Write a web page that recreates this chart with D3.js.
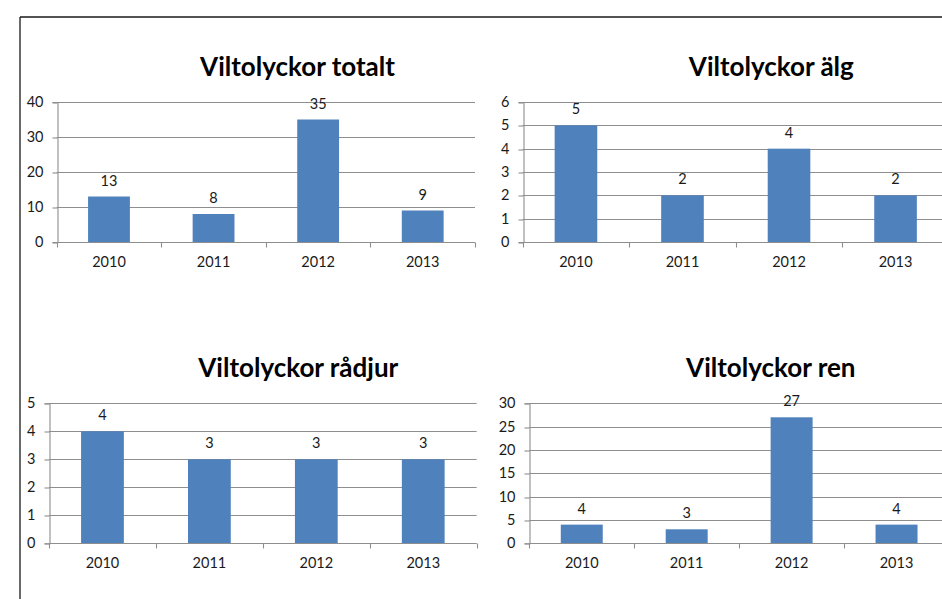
<!DOCTYPE html>
<html>
<head>
<meta charset="utf-8">
<script src="https://cdn.jsdelivr.net/npm/d3@7"></script>
<style>
  html, body { margin: 0; padding: 0; background: #fff; }
  svg { display: block; }
  text { font-family: Lato, "Open Sans", sans-serif; }
</style>
</head>
<body>
<svg id="chart" width="942" height="599"></svg>
<script>
// ---- data ----
const years = ["2010", "2011", "2012", "2013"];
const totalt = [13, 8, 35, 9];
const alg = [5, 2, 4, 2];
const radjur = [4, 3, 3, 3];
const ren = [4, 3, 27, 4];
const titles = ["Viltolyckor totalt", "Viltolyckor älg", "Viltolyckor rådjur", "Viltolyckor ren"];
const yMaxes = [40, 6, 5, 30];
const yTickSteps = [10, 1, 1, 5];

const seriesList = [totalt, alg, radjur, ren];

// ---- layout (positions) ----
const panels = [
  { x0: 56.7, x1: 475, yTop: 102, yBot: 242, tx: 297.5, ty: 66.7 },
  { x0: 522.7, x1: 948.8, yTop: 102, yBot: 242, tx: 771.3, ty: 66.7 },
  { x0: 49, x1: 476.7, yTop: 403.3, yBot: 543.3, tx: 298.3, ty: 368.3 },
  { x0: 529.3, x1: 949, yTop: 403.3, yBot: 543.3, tx: 770.8, ty: 368.3 }
];

const svg = d3.select("#chart");
const barColor = "#4F81BD";
const gridColor = "#8e8e8e";

// outer border (top and left edges of the sheet frame)
svg.append("line").attr("x1", 20).attr("y1", 17).attr("x2", 942).attr("y2", 17)
  .attr("stroke", "#1a1a1a").attr("stroke-width", 1.3);
svg.append("line").attr("x1", 20).attr("y1", 17).attr("x2", 20).attr("y2", 599)
  .attr("stroke", "#1a1a1a").attr("stroke-width", 1.3);

panels.forEach((p, i) => {
  const values = seriesList[i];
  const g = svg.append("g");

  const x = d3.scaleBand().domain(years).range([p.x0, p.x1])
    .paddingInner(0.6).paddingOuter(0.3);
  const y = d3.scaleLinear().domain([0, yMaxes[i]]).range([p.yBot, p.yTop]);
  const ticks = d3.range(0, yMaxes[i] + yTickSteps[i] / 2, yTickSteps[i]);

  // gridlines
  g.append("g").selectAll("line").data(ticks.filter(t => t > 0)).join("line")
    .attr("x1", p.x0).attr("x2", p.x1)
    .attr("y1", d => Math.round(y(d)) + 0.5).attr("y2", d => Math.round(y(d)) + 0.5)
    .attr("stroke", gridColor).attr("stroke-width", 1.1);

  // y axis
  const yAxis = d3.axisLeft(y).tickValues(ticks).tickSize(5).tickPadding(9)
    .tickFormat(d3.format("d"));
  const ya = g.append("g").attr("transform", `translate(${Math.round(p.x0) + 0.5},0)`).call(yAxis);
  ya.select(".domain").attr("stroke", gridColor).attr("stroke-width", 1.1);
  ya.selectAll(".tick line").attr("stroke", gridColor).attr("stroke-width", 1.1)
    .attr("transform", d => `translate(0,${Math.round(y(d)) + 0.5 - y(d)})`);
  ya.selectAll(".tick text").attr("font-size", 14.5).attr("fill", "#1a1a1a")
    .attr("font-family", "Lato, 'Open Sans', sans-serif");

  // bars
  g.append("g").selectAll("rect").data(values).join("rect")
    .attr("x", (d, j) => x(years[j]))
    .attr("width", x.bandwidth())
    .attr("y", d => y(d))
    .attr("height", d => y(0) - y(d))
    .attr("fill", barColor);

  // x axis line with boundary ticks
  const step = x.step();
  const start = x.range()[0];
  const xb = Math.round(p.yBot) + 0.5;
  g.append("line").attr("x1", p.x0).attr("x2", p.x1).attr("y1", xb).attr("y2", xb)
    .attr("stroke", gridColor).attr("stroke-width", 1.1);
  g.append("g").selectAll("line").data(d3.range(years.length + 1)).join("line")
    .attr("x1", k => Math.round(start + k * step) + 0.5)
    .attr("x2", k => Math.round(start + k * step) + 0.5)
    .attr("y1", xb).attr("y2", xb + 5)
    .attr("stroke", gridColor).attr("stroke-width", 1.1);

  // x labels
  g.append("g").selectAll("text").data(years).join("text")
    .attr("x", d => x(d) + x.bandwidth() / 2)
    .attr("y", p.yBot + 20)
    .attr("dy", "0.35em")
    .attr("text-anchor", "middle")
    .attr("font-size", 14.5)
    .attr("fill", "#1a1a1a")
    .text(d => d);

  // value labels
  g.append("g").selectAll("text").data(values).join("text")
    .attr("x", (d, j) => x(years[j]) + x.bandwidth() / 2)
    .attr("y", d => y(d) - 16)
    .attr("dy", "0.35em")
    .attr("text-anchor", "middle")
    .attr("font-size", 14.5)
    .attr("fill", "#1a1a1a")
    .text(d => d);

  // title
  g.append("text")
    .attr("x", p.tx).attr("y", p.ty).attr("dy", "0.35em")
    .attr("text-anchor", "middle")
    .attr("font-size", 26)
    .attr("font-weight", "bold")
    .attr("fill", "#000")
    .text(titles[i]);
});
</script>
</body>
</html>
